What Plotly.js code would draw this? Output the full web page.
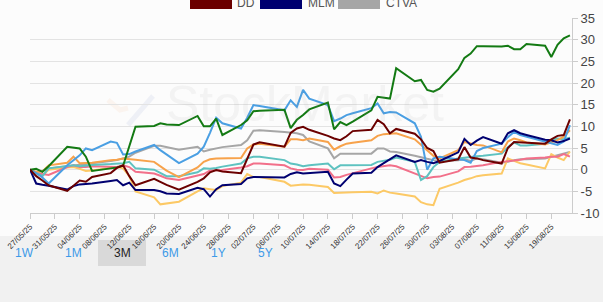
<!DOCTYPE html>
<html>
<head>
<meta charset="utf-8">
<script src="https://cdn.plot.ly/plotly-3.0.1.min.js"></script>
<style>
html,body{margin:0;padding:0;background:#fcfcfc;}
#chart{width:603px;height:302px;}
</style>
</head>
<body>
<div id="chart"></div>
<script>
const dates = ['2025-05-27','2025-05-28','2025-05-29','2025-05-30',
'2025-06-02','2025-06-03','2025-06-04','2025-06-05','2025-06-06',
'2025-06-09','2025-06-10','2025-06-11','2025-06-12','2025-06-13',
'2025-06-16','2025-06-17','2025-06-18','2025-06-20',
'2025-06-23','2025-06-24','2025-06-25','2025-06-26','2025-06-27',
'2025-06-30','2025-07-01','2025-07-02','2025-07-03',
'2025-07-07','2025-07-08','2025-07-09','2025-07-10','2025-07-11',
'2025-07-14','2025-07-15','2025-07-16','2025-07-17','2025-07-18',
'2025-07-21','2025-07-22','2025-07-23','2025-07-24','2025-07-25',
'2025-07-28','2025-07-29','2025-07-30','2025-07-31','2025-08-01',
'2025-08-04','2025-08-05','2025-08-06','2025-08-07','2025-08-08',
'2025-08-11','2025-08-12','2025-08-13','2025-08-14','2025-08-15',
'2025-08-18','2025-08-19','2025-08-20','2025-08-21','2025-08-22'];

const greenVals = [0,0.2,-0.5,0.8, 5.3,5.1,4.9,3.0,-0.3, 0.3,0.5,0.9,5.3,9.9, 10.1,10.7,10.4,10.3, 12.4,10.0,10.0,11.8,8.0, 10.3,11.4,13.5,13.6, 13.8,9.6,11.5,12.6,13.9, 15.5,9.3,11.0,10.3,11.1, 13.7,16.8,16.6,16.4,23.4, 20.4,20.7,18.4,18.0,18.7, 23.2,25.8,26.8,28.5,28.5, 28.4,28.6,27.8,27.8,29.0, 28.6,26.0,28.8,30.3,31.0];
const blueVals = [0,-0.8,-1.8,-3.2, 1.0,2.2,3.3,4.9,4.5, 6.5,6.2,3.5,3.6,4.2, 5.7,4.5,3.5,1.5, 3.7,5.3,8.5,12.0,10.7, 9.5,12.0,14.9,14.7, 13.7,16.0,14.5,18.4,16.4, 14.9,11.2,11.8,12.6,13.0, 14.2,15.3,13.0,13.3,13.2, 10.7,7.6,0.0,2.6,3.0, 2.5,2.2,1.6,4.3,5.0, 6.0,7.5,8.7,8.0,7.6, 6.5,6.0,5.7,6.5,10.3];
const ddVals = [0,-1.5,-2.5,-3.6, -4.9,-3.6,-2.5,-2.8,-1.7, -0.8,0.4,1.0,-1.5,-3.6, -2.1,-2.8,-3.5,-4.6, -2.8,-2.0,-0.6,-0.1,-0.4, -0.8,2.6,5.8,6.3, 5.3,8.5,9.5,9.9,9.2, 7.8,7.2,6.8,7.7,8.9, 9.2,11.5,10.5,8.4,9.4, 8.3,7.0,5.0,4.3,1.6, 2.4,5.2,2.8,2.6,2.2, 1.4,5.0,6.4,6.3,6.2, 6.0,7.0,7.8,8.0,11.6];
const mlmVals = [0,-3.2,-3.5,-3.7, -4.6,-3.8,-3.4,-3.3,-3.2, -2.6,-2.4,-3.6,-3.0,-4.7, -4.7,-5.0,-5.5,-5.6, -4.2,-4.5,-6.2,-4.5,-3.6, -3.3,-2.0,-1.7,-1.7, -1.8,-1.0,-0.6,-0.9,-0.8, -0.5,-3.2,-3.8,-2.3,-0.9, -0.7,0.6,1.5,2.5,3.3, 1.8,2.2,1.8,1.5,2.0, 4.0,7.1,5.7,6.7,7.5, 6.0,8.4,9.1,8.4,8.0, 6.9,6.8,6.3,6.6,7.2];
const ctvaVals = [0,-0.5,-0.3,0.3, 0.8,1.0,1.2,1.3,1.5, 2.0,2.2,2.6,3.0,3.9, 5.5,5.5,5.2,4.6, 5.3,4.2,4.6,4.9,5.2, 5.7,6.8,9.0,9.1, 8.7,8.5,8.4,8.0,6.5, 4.9,2.6,3.7,3.7,3.7, 3.7,4.9,4.9,4.2,4.1, 3.2,2.8,2.5,2.2,2.0, 2.2,2.4,2.0,2.6,2.4, 1.6,1.8,2.2,2.4,2.4, 2.6,3.0,3.4,3.7,4.1];
const orangeVals = [0,-0.5,-0.4,1.0, 1.6,3.0,1.5,1.5,1.6, 2.2,2.3,2.6,2.5,2.3, 1.8,0.8,-0.2,-1.7, 0.5,1.8,2.4,2.6,2.6, 2.7,4.9,5.8,6.0, 5.3,7.0,7.0,6.8,7.2, 6.4,4.6,5.4,6.0,6.2, 6.8,7.8,8.2,8.3,8.4, 7.0,5.8,4.6,3.2,2.6, 4.5,6.4,6.0,5.7,5.6, 4.0,6.5,7.2,6.8,6.3, 5.8,6.3,6.8,7.6,9.1];
const tealVals = [0,-0.8,-1.5,0.3, 0.8,1.0,0.8,1.0,1.1, 1.3,1.4,1.5,1.8,0.3, 0.0,-0.8,-1.5,-1.5, -0.6,0.3,0.2,0.4,0.7, 1.4,2.6,3.0,3.0, 2.2,1.4,1.2,0.8,1.0, 1.4,0.1,1.0,1.0,1.0, 1.1,1.8,2.0,2.3,2.8, 1.8,-2.4,-1.5,0.6,1.8, 2.6,2.8,3.0,3.1,3.2, 3.7,5.2,6.3,5.6,5.6, 6.0,6.8,7.2,7.0,7.4];
const pinkVals = [0,-0.7,-1.0,-1.2, 0.6,1.0,0.6,0.6,0.8, 0.6,0.6,1.0,0.6,-0.5, -0.9,-1.4,-2.0,-2.4, -1.4,-1.0,-0.2,-0.1,-0.1, 0.5,0.8,1.4,1.4, 1.0,0.3,0.0,-0.1,0.2, 0.0,-1.8,-1.7,-1.2,-0.8, 0.3,0.6,0.8,1.0,0.8, -0.9,-1.5,-2.0,-1.7,-1.6, -0.4,0.6,0.7,0.9,1.0, 1.8,1.9,2.1,2.3,2.6, 2.8,3.0,3.0,3.6,3.0];
const yellowVals = [0,-1.0,-1.3,0.0, 0.5,0.6,0.2,-0.3,-0.2, 0.5,0.6,0.3,-1.5,-5.0, -6.4,-8.0,-7.8,-7.4, -5.0,-4.3,-4.5,-4.7,-3.8, -3.0,-1.0,-1.7,-1.7, -2.8,-3.7,-3.6,-3.4,-3.5, -4.0,-5.4,-5.3,-5.2,-5.2, -5.1,-5.5,-4.8,-5.3,-5.5, -6.2,-7.5,-8.0,-8.2,-4.4, -3.0,-2.4,-2.0,-1.5,-1.3, -0.9,2.6,2.0,1.5,1.2, 0.3,3.6,2.8,2.2,4.2];

const legendNames = ['DD','MLM','CTVA'];
const legendColors = ['#6b0000','#000070','#a6a6a6'];
const rangeButtons = ['1W','1M','3M','6M','1Y','5Y'];
const yTicks = [-10,-5,0,5,10,15,20,25,30,35];

const series = [
  {name:'CTVA', y:ctvaVals, color:'#a6a6a6'},
  {name:'Yellow', y:yellowVals, color:'#fcc966'},
  {name:'Pink', y:pinkVals, color:'#f2708a'},
  {name:'Teal', y:tealVals, color:'#5ec2c0'},
  {name:'Orange', y:orangeVals, color:'#f7a24b'},
  {name:'Blue', y:blueVals, color:'#4a9fe3'},
  {name:'Green', y:greenVals, color:'#137a13'},
  {name:'MLM', y:mlmVals, color:'#000070'},
  {name:'DD', y:ddVals, color:'#6b0000'}
];

const traces = series.map(s => ({
  x: dates, y: s.y, type:'scatter', mode:'lines', name:s.name,
  line:{color:s.color, width:2}, hoverinfo:'skip', showlegend:false
}));

// pixel helpers for decoration placement (paper coords)
const L=30, R=572, T=18, B=213;
const px = v => (v-L)/(R-L);
const py = v => (B-v)/(B-T);

const shapes = [];
const annotations = [];

// bottom strip
shapes.push({type:'rect', xref:'paper', yref:'paper', x0:px(-5), x1:px(610), y0:py(310), y1:py(236), fillcolor:'#f1f1f1', line:{width:0}, layer:'below'});
shapes.push({type:'rect', xref:'paper', yref:'paper', x0:px(98), x1:px(146), y0:py(266), y1:py(240), fillcolor:'#d9d9d9', line:{width:0}, layer:'below'});
const btnX = [24,73,122,170,218,265];
rangeButtons.forEach((b,i)=>{
  annotations.push({xref:'paper', yref:'paper', x:px(btnX[i]), y:py(253), text:b, showarrow:false,
    font:{family:'Liberation Sans, Arial, sans-serif', size:12, color: b==='3M' ? '#222' : '#3d9ae8'}, xanchor:'center', yanchor:'middle'});
});

// legend (partly scrolled out at top, as in the reference)
const legX = [190,260,338];
const legTextX = [235,306,384];
legendNames.forEach((n,i)=>{
  shapes.push({type:'rect', xref:'paper', yref:'paper', x0:px(legX[i]), x1:px(legX[i]+42), y0:py(9), y1:py(-5), fillcolor:legendColors[i], line:{width:0}});
  annotations.push({xref:'paper', yref:'paper', x:px(legTextX[i]), y:py(3), text:n, showarrow:false,
    font:{family:'Liberation Sans, Arial, sans-serif', size:12, color:'#555'}, xanchor:'left', yanchor:'middle'});
});

// faint watermark logo + text
shapes.push({type:'line', xref:'paper', yref:'paper', x0:px(128), y0:py(125), x1:px(153), y1:py(96), line:{color:'rgba(120,140,200,0.10)', width:5}, layer:'below'});
shapes.push({type:'path', xref:'paper', yref:'paper', path:'M '+px(108)+' '+py(100)+' L '+px(120)+' '+py(110)+' L '+px(128)+' '+py(108), line:{color:'rgba(240,150,90,0.08)', width:5}, layer:'below'});
annotations.push({xref:'paper', yref:'paper', x:px(305), y:py(104), text:'StockMarket', showarrow:false,
  font:{family:'Liberation Sans, Arial, sans-serif', size:50, color:'rgba(150,150,150,0.09)'}, xanchor:'center', yanchor:'middle'});

const layout = {
  width:603, height:302,
  margin:{l:L, r:603-R, t:T, b:302-B, pad:0},
  paper_bgcolor:'#fcfcfc', plot_bgcolor:'#fcfcfc',
  showlegend:false,
  xaxis:{
    type:'date', range:['2025-05-27','2025-08-22 08:00'],
    tick0:'2025-05-27', dtick:4*86400000, tickformat:'%d/%m/%y',
    tickangle:-45, showgrid:false, zeroline:false,
    showline:true, linecolor:'#cccccc', linewidth:1,
    ticks:'outside', ticklen:5, tickcolor:'#cccccc',
    ticklabeloverflow:'allow',
    tickfont:{family:'Liberation Sans, Arial, sans-serif', size:8, color:'#333'}
  },
  yaxis:{
    side:'right', range:[-10,35], tickvals:yTicks, ticktext:yTicks.map(String),
    showgrid:true, gridcolor:'#e3e3e3', gridwidth:1, zeroline:false,
    showline:true, linecolor:'#cccccc', linewidth:1,
    ticks:'outside', ticklen:5, tickcolor:'#cccccc',
    tickfont:{family:'Liberation Sans, Arial, sans-serif', size:13, color:'#444'}
  },
  shapes:shapes, annotations:annotations
};

Plotly.newPlot('chart', traces, layout, {displayModeBar:false, staticPlot:true});
</script>
</body>
</html>
